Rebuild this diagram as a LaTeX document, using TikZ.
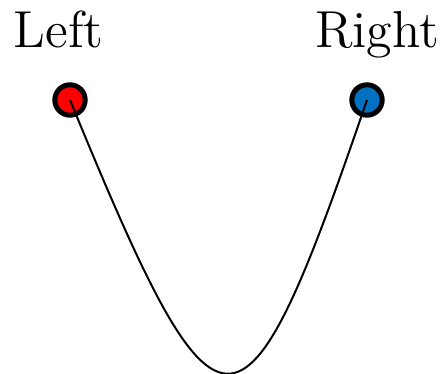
\documentclass[tikz,border=0pt]{standalone}
\usepackage{tikz}
\usetikzlibrary{positioning}
\definecolor{myRed}{RGB}{255,0,0}
\definecolor{myBlue}{RGB}{0,112,192}
\tikzset{
	endpt/.style={
		circle,
		draw=black,
		line width=1.25pt,
		inner sep=0pt,
		minimum size=7.6pt
	},
	endlbl/.style={anchor=base, font=\fontsize{13}{15}\selectfont}
}
\begin{document}
\begin{tikzpicture}[x=0.25pt, y=0.25pt]
		\useasboundingbox (0,0) rectangle (443,374);
		\node[endpt, fill=myRed] (lpt) at (70,274) {};
		\node[endpt, fill=myBlue] (rpt) at (367,274) {};
		\node[endlbl] (llbl) at (58.5,326) {Left};
		\node[endlbl] (rlbl) at (377,326) {Right};
		\draw[line width=0.5pt] (lpt.center) .. controls (220,-91) and (242,-91) .. (rpt.center);
	\end{tikzpicture}
\end{document}
